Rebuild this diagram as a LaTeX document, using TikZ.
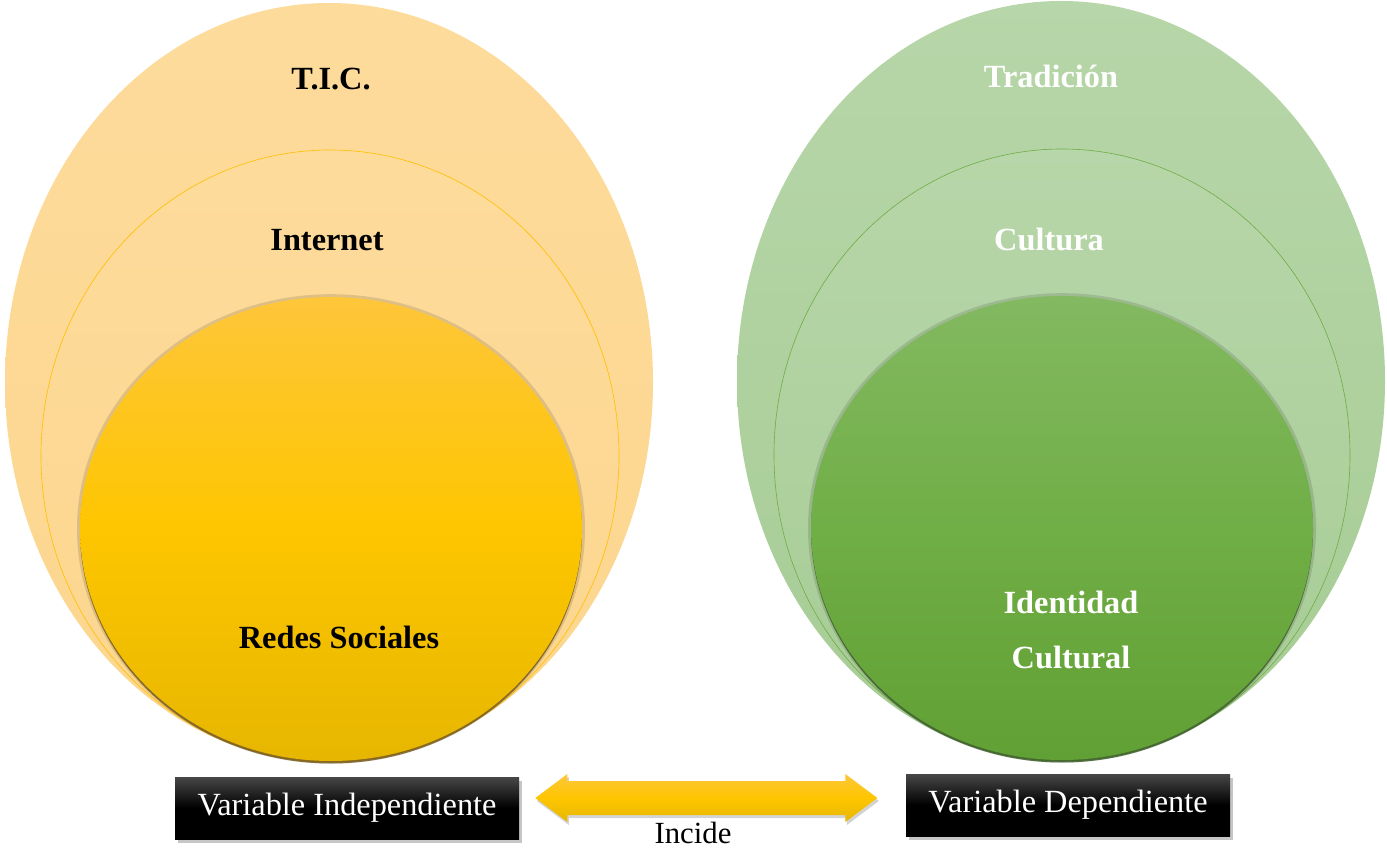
\documentclass[tikz,border=0pt]{standalone}
\usepackage{fontspec}
\setmainfont{Liberation Serif}
\usetikzlibrary{shadows, calc}

\definecolor{oroClaro}{RGB}{253,219,155}
\definecolor{oroClaroB}{RGB}{252,214,142}
\definecolor{oroBorde}{RGB}{255,192,0}
\definecolor{oroArriba}{RGB}{254,198,58}
\definecolor{oroMedio}{RGB}{254,198,0}
\definecolor{oroAbajo}{RGB}{230,182,0}
\definecolor{oroSombra}{RGB}{120,92,25}
\definecolor{verdeClaro}{RGB}{183,214,169}
\definecolor{verdeClaroB}{RGB}{166,204,148}
\definecolor{verdeBorde}{RGB}{112,173,71}
\definecolor{verdeArriba}{RGB}{131,185,97}
\definecolor{verdeMedio}{RGB}{112,174,70}
\definecolor{verdeAbajo}{RGB}{97,160,52}
\definecolor{verdeSombra}{RGB}{60,95,40}

\begin{document}
\begin{tikzpicture}
		\tikzstyle{anillo} = [font = \bfseries\fontsize{18.4}{22}\selectfont, anchor = base, inner sep = 0]
		\tikzstyle{varcaja} = [rectangle, minimum height = 1.24cm, inner sep = 0, text = white,
			font = \fontsize{18.4}{22}\selectfont, top color = black!72, bottom color = black, middle color = black,
			drop shadow = {opacity = 0.45, shadow xshift = 0.05, shadow yshift = -0.07}]

\useasboundingbox (0,0) rectangle (27.74,16.94);

% T.I.C.
\shade[top color = oroClaro, bottom color = oroClaroB]
	(6.58,9.29) ellipse [x radius = 6.48, y radius = 7.59];
\shade[top color = oroClaro, bottom color = oroClaroB, draw = oroBorde, line width = 0.35pt]
	(6.60,7.82) ellipse [x radius = 5.78, y radius = 6.12];
\shade[top color = oroArriba, bottom color = oroAbajo, middle color = oroMedio,
	drop shadow = {fill = black, opacity = 0.12, shadow xshift = 0, shadow yshift = 0, shadow scale = 1.012},
	drop shadow = {fill = oroSombra, opacity = 0.85, shadow xshift = 0, shadow yshift = -0.05}]
	(6.62,6.36) ellipse [x radius = 5.02, y radius = 4.64];

% Tradicion
\shade[top color = verdeClaro, bottom color = verdeClaroB]
	(21.22,9.32) ellipse [x radius = 6.48, y radius = 7.60];
\shade[top color = verdeClaro, bottom color = verdeClaroB, draw = verdeBorde, line width = 0.35pt]
	(21.24,7.84) ellipse [x radius = 5.76, y radius = 6.12];
\shade[top color = verdeArriba, bottom color = verdeAbajo, middle color = verdeMedio,
	drop shadow = {fill = black, opacity = 0.12, shadow xshift = 0, shadow yshift = 0, shadow scale = 1.012},
	drop shadow = {fill = verdeSombra, opacity = 0.85, shadow xshift = 0, shadow yshift = -0.05}]
	(21.24,6.38) ellipse [x radius = 5.02, y radius = 4.64];

% Textos
\node[anillo] (tic) at (6.62,15.14) {T.I.C.};
\node[anillo] (internet) at (6.54,11.92) {Internet};
\node[anillo] (redes) at (6.78,3.98) {Redes Sociales};
\node[anillo, text = white] (tradicion) at (21.02,15.18) {Tradición};
\node[anillo, text = white] (cultura) at (20.98,11.92) {Cultura};
\node[anillo, text = white] (identidad) at (21.42,4.66) {Identidad};
\node[anillo, text = white] (cultural) at (21.42,3.56) {Cultural};

% Variables
\node[varcaja, minimum width = 6.88cm] (vi) at (6.94,0.78) {Variable Independiente};
\node[varcaja, minimum width = 6.48cm] (vd) at (21.36,0.84) {Variable Dependiente};

% Flecha
\shade[top color = oroArriba, bottom color = oroAbajo, middle color = oroMedio,
	drop shadow = {opacity = 0.35, shadow xshift = 0.03, shadow yshift = -0.06}]
	($(vi.east) + (0.32,0.20)$) -- ++(0.64,0.48) -- ++(0,-0.14) -- ++(5.56,0) -- ++(0,0.14) --
	++(0.64,-0.48) -- ++(-0.64,-0.48) -- ++(0,0.14) -- ++(-5.56,0) -- ++(0,-0.14) -- cycle;
\node[anchor = base, inner sep = 0, font = \fontsize{17.5}{21}\selectfont] (incide) at (13.86,0.08) {Incide};

\end{tikzpicture}
\end{document}
